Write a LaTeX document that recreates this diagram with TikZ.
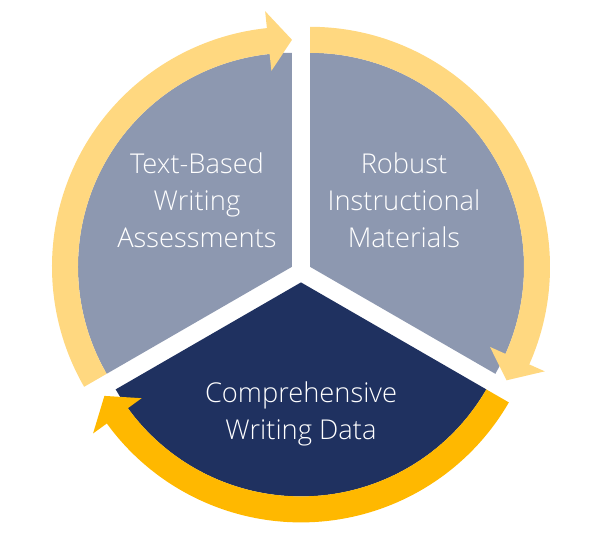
\documentclass[tikz,border=0pt]{standalone}
\usepackage{fontspec}
\setmainfont{Open Sans Light}
\definecolor{wedgegrey}{RGB}{141,152,176}
\definecolor{wedgenavy}{RGB}{31,49,96}
\definecolor{arrowlight}{RGB}{255,216,128}
\definecolor{arrowgold}{RGB}{255,184,0}
\tikzset{
  label/.style={text=white, align=center, font=\fontsize{27.3}{37}\selectfont}
}
\begin{document}
\begin{tikzpicture}[x=1pt,y=1pt]
    \useasboundingbox (-301,-274) rectangle (299,272);
    % wedges with their curved arrows, each shifted out along its bisector
    \foreach \a/\wc/\ac in {90/wedgegrey/arrowlight, -30/wedgegrey/arrowlight, 210/wedgenavy/arrowgold} {
      \begin{scope}[shift={(\a+60:10.4)}]
        \fill[\wc] (0,0) -- (\a:214) arc[start angle=\a, end angle=\a+120, radius=214] -- cycle;
        \fill[\ac] (\a+120:214) arc[start angle=\a+120, end angle=\a+6, radius=214]
          -- (\a+6:197) -- (\a:227) -- (\a+6:257) -- (\a+6:240)
          arc[start angle=\a+6, end angle=\a+120, radius=240] -- cycle;
      \end{scope}
    }
    \node[label] (assess) at (-104,72) {Text-Based\\Writing\\Assessments};
    \node[label] (material) at (103,72) {Robust\\Instructional\\Materials};
    \node[label] (data) at (0,-142) {Comprehensive\\Writing Data};
\end{tikzpicture}
\end{document}
